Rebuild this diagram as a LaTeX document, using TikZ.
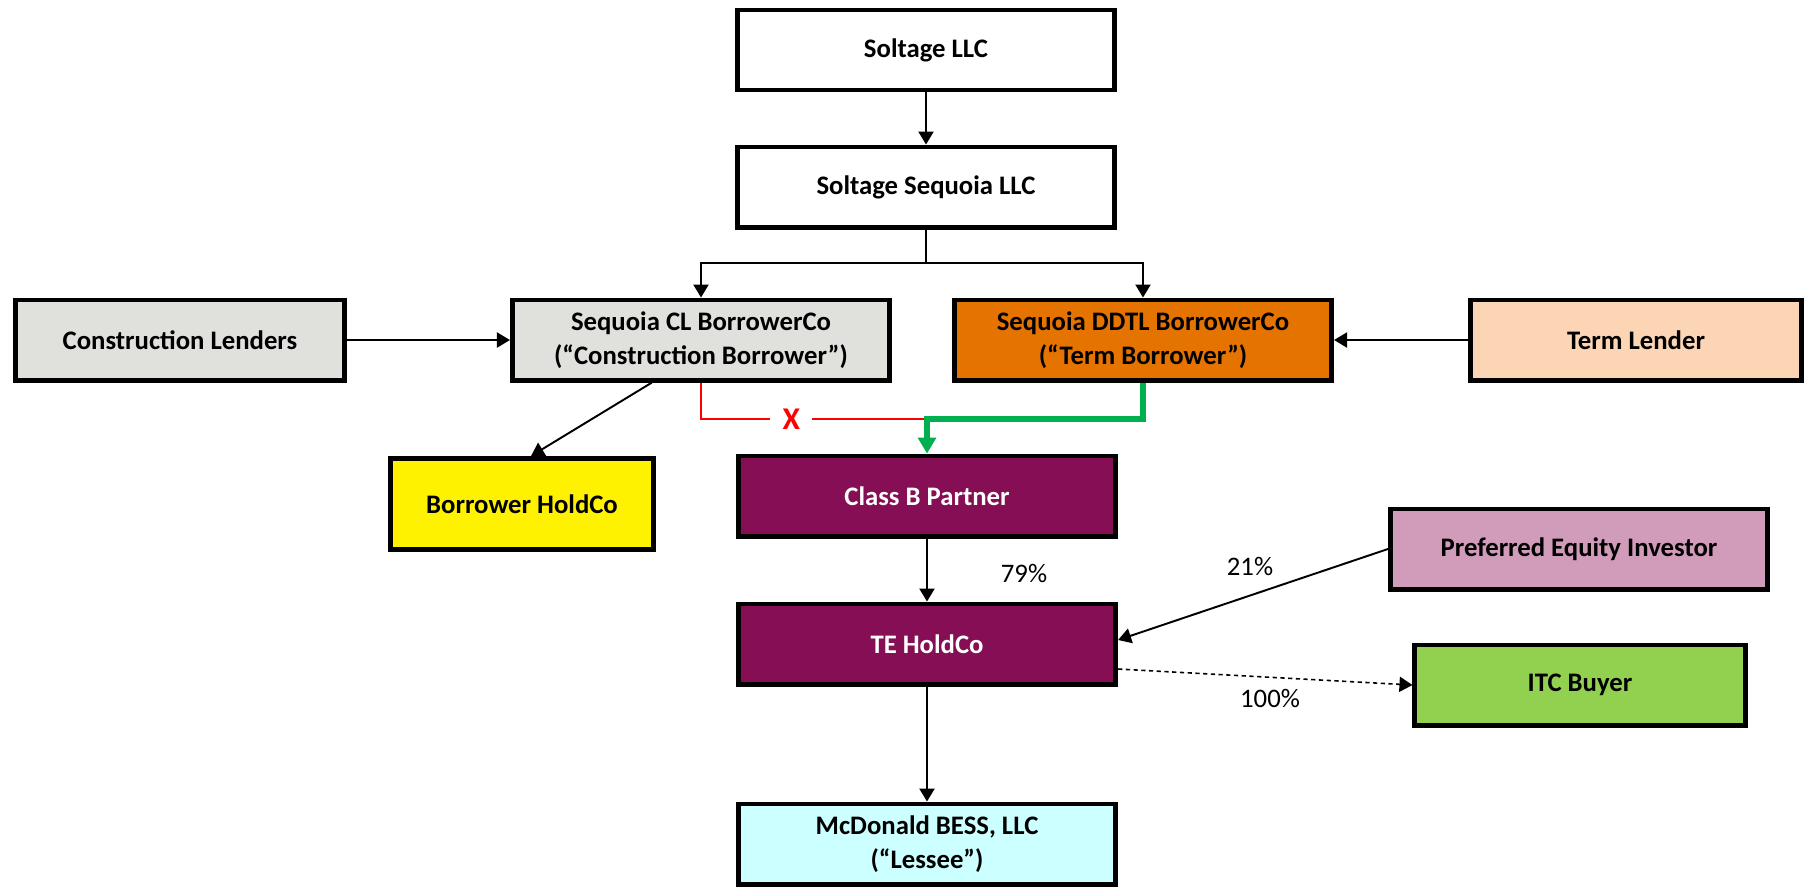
\documentclass[tikz,border=0pt]{standalone}
\usepackage{fontspec}
\setmainfont{Carlito}
\usetikzlibrary{arrows.meta}
\definecolor{lendgray}{RGB}{224,224,220}
\definecolor{termorange}{RGB}{228,115,0}
\definecolor{termpeach}{RGB}{252,213,180}
\definecolor{teplum}{RGB}{134,14,84}
\definecolor{prefpink}{RGB}{209,155,186}
\definecolor{itcgreen}{RGB}{146,208,80}
\definecolor{lesseecyan}{RGB}{204,255,255}
\definecolor{termgreen}{RGB}{0,176,80}
\begin{document}
\begin{tikzpicture}[x=0.01cm,y=-0.01cm,
    every node/.style={font=\fontsize{7.6}{9.5}\selectfont},
    entity/.style={draw,line width=1.4pt,minimum width=3.77cm,minimum height=0.8cm,
      inner sep=0pt,align=center,font=\fontsize{7.6}{9.5}\selectfont\bfseries},
    link/.style={line width=0.55pt,-{Triangle[length=3.7pt,width=4.3pt]}}]
  \useasboundingbox (0,0) rectangle (1804,887);
  \node[entity,fill=white] (soltage) at (926,50) {Soltage LLC};
  \node[entity,fill=white] (sequoia) at (926,187) {Soltage Sequoia LLC};
  \node[entity,fill=lendgray,minimum width=3.28cm] (conlend) at (180,340) {Construction Lenders};
  \node[entity,fill=lendgray] (clborrow) at (701,340) {Sequoia CL BorrowerCo\\(“Construction Borrower”)};
  \node[entity,fill=termorange] (ddtl) at (1143,340) {Sequoia DDTL BorrowerCo\\(“Term Borrower”)};
  \node[entity,fill=termpeach,minimum width=3.3cm] (termlend) at (1636,340) {Term Lender};
  \node[entity,fill=yellow,minimum width=2.62cm,minimum height=0.91cm] (bhold) at (522,504) {Borrower HoldCo};
  \node[entity,fill=teplum,text=white] (classb) at (927,496) {Class B Partner};
  \node[entity,fill=prefpink] (pei) at (1579,549) {Preferred Equity Investor};
  \node[entity,fill=teplum,text=white] (tehold) at (927,644) {TE HoldCo};
  \node[entity,fill=itcgreen,minimum width=3.3cm] (itc) at (1580,685) {ITC Buyer};
  \node[entity,fill=lesseecyan] (mcd) at (927,844) {McDonald BESS, LLC\\(“Lessee”)};
  \coordinate (split) at (926,263);
  \coordinate (junction) at (927,419);
  \draw[link] (soltage) -- (sequoia);
  \draw[line width=0.55pt] (sequoia.south) -- (split);
  \draw[link] (split) -| (clborrow.north);
  \draw[link] (split) -| (ddtl.north);
  \draw[link] (conlend) -- (clborrow);
  \draw[link] (termlend) -- (ddtl);
  \draw[link] ([xshift=-0.49cm]clborrow.south) -- ([xshift=0.09cm]bhold.north);
  \draw[red,line width=0.45pt] (clborrow.south) |- (junction)
    node[pos=0.7,fill=white,inner xsep=3.5pt,inner ysep=1pt,text=red,font=\fontsize{9}{10}\selectfont\bfseries] (blocked) {X};
  \draw[termgreen,line width=1.5pt,-{Triangle[length=4.5pt,width=5pt]}] (ddtl.south) |- (junction) -- (classb.north);
  \draw[link] (classb) -- (tehold);
  \node (share79) at (1024,573) {79\%};
  \draw[link] (pei.west) -- ([yshift=0.04cm]tehold.east);
  \node (share21) at (1250,566) {21\%};
  \draw[link,dash pattern=on 1.2pt off 1pt,line width=0.45pt] ([yshift=-0.25cm]tehold.east) -- (itc.west);
  \node (share100) at (1270,698) {100\%};
  \draw[link] (tehold) -- (mcd);
\end{tikzpicture}
\end{document}
